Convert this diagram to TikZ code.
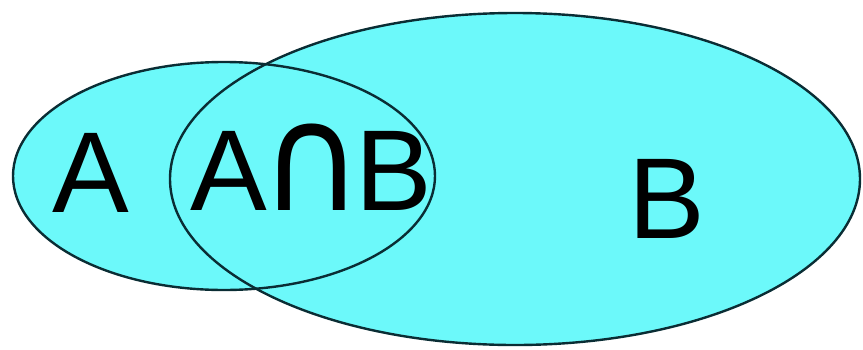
\documentclass[tikz,border=0pt]{standalone}
\usepackage{fontspec}
\usepackage{graphicx}
\setmainfont{Liberation Sans}
\newfontfamily\capfont{DejaVu Sans}
\definecolor{fillc}{RGB}{108,249,250}
\definecolor{linec}{RGB}{10,45,52}
\begin{document}
\begin{tikzpicture}[x=1pt,y=-1pt,
  setarea/.style={fill=fillc},
  setline/.style={draw=linec,line width=2.4pt},
  lbl/.style={inner sep=0pt,anchor=base west,font=\fontsize{115}{115}\selectfont,text=black}]
\useasboundingbox[fill=white] (0,0) rectangle (863,349);
\fill[setarea] (224,176) ellipse [x radius=211,y radius=114];
\fill[setarea] (515,179) ellipse [x radius=345,y radius=166];
\draw[setline] (224,176) ellipse [x radius=211,y radius=114];
\draw[setline] (515,179) ellipse [x radius=345,y radius=166];
\node[lbl] (a) at (52,212) {A};
\node[lbl] (ab) at (190,210) {A\kern-6pt\scalebox{1.22}[1.3]{\capfont ∩}\kern-8ptB};
\node[lbl] (b) at (628,238) {B};
\end{tikzpicture}
\end{document}
